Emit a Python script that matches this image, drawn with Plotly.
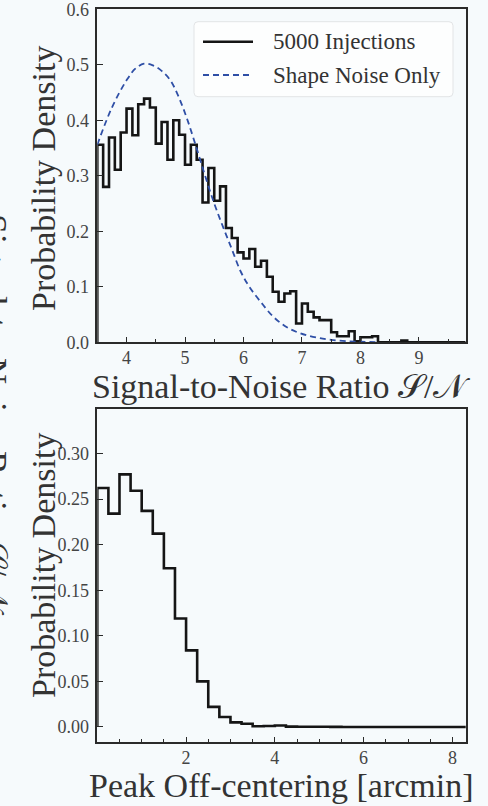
import numpy as np
import plotly.graph_objects as go

# ---------------- data ----------------
snr_bin_start = 3.5
snr_bin_width = 0.1
snr_density = [
    0.356, 0.280, 0.369, 0.311, 0.378, 0.421, 0.373, 0.429, 0.439, 0.423,
    0.358, 0.397, 0.329, 0.400, 0.374, 0.320, 0.356, 0.329, 0.252, 0.314,
    0.255, 0.281, 0.206, 0.188, 0.162, 0.151, 0.168, 0.136, 0.147, 0.118,
    0.091, 0.073, 0.088, 0.092, 0.034, 0.070, 0.055, 0.045, 0.040, 0.040,
    0.018, 0.011, 0.011, 0.020, 0.002, 0.009, 0.009, 0.011, 0.0, 0.0,
    0.0, 0.0, 0.003, 0.0, 0.0, 0.0, 0.0, 0.0, 0.0, 0.0,
    0.0, 0.0, 0.0,
]

shape_noise_x = [3.5, 3.75, 4.0, 4.15, 4.3, 4.45, 4.6, 4.75, 4.9, 5.05, 5.2,
                 5.35, 5.5, 5.65, 5.8, 5.95, 6.1, 6.3, 6.5, 6.7, 6.9, 7.1,
                 7.3, 7.5, 7.75, 8.0, 8.3]
shape_noise_y = [0.356, 0.423, 0.472, 0.493, 0.502, 0.499, 0.489, 0.472,
                 0.440, 0.398, 0.349, 0.298, 0.250, 0.208, 0.168, 0.128,
                 0.100, 0.072, 0.047, 0.030, 0.019, 0.012, 0.0075, 0.0045,
                 0.002, 0.001, 0.0003]

off_bin_start = 0.0
off_bin_width = 0.25
off_density = [
    0.262, 0.234, 0.277, 0.259, 0.237, 0.212, 0.174, 0.119, 0.084, 0.050,
    0.022, 0.011, 0.005, 0.0035, 0.0008, 0.001, 0.0016, 0.0004, 0.0003,
    0.0002, 0.0002, 0.0001, 0.0, 0.0, 0.0, 0.0, 0.0, 0.0, 0.0, 0.0, 0.0,
    0.0, 0.0, 0.0, 0.0,
]

top_xticks = [4, 5, 6, 7, 8, 9]
top_yticks = [0.0, 0.1, 0.2, 0.3, 0.4, 0.5, 0.6]
top_yticklabels = ["0.0", "0.1", "0.2", "0.3", "0.4", "0.5", "0.6"]
bot_xticks = [2, 4, 6, 8]
bot_yticks = [0.00, 0.05, 0.10, 0.15, 0.20, 0.25, 0.30]
bot_yticklabels = ["0.00", "0.05", "0.10", "0.15", "0.20", "0.25", "0.30"]

legend_labels = ["5000 Injections", "Shape Noise Only"]
top_xtitle = "Signal-to-Noise Ratio 𝒮/𝒩"
bot_xtitle = "Peak Off-centering [arcmin]"
ytitle = "Probability Density"

# ---------------- helpers ----------------
W, H = 488, 806
SERIF = "Liberation Serif"
BG = "#f6fafc"
TXT = "#333333"
AX = "#2a2a2a"
HIST = "#151515"
BLUE = "#2f4fa6"


def px(x):
    return x / W


def py(y):
    return 1 - y / H


def step_xy(start, width, vals):
    edges = start + width * np.arange(len(vals) + 1)
    xs = [edges[0]] + list(edges)
    ys = [0.0] + list(vals) + [0.0]
    return xs, ys


fig = go.Figure()

sx, sy = step_xy(snr_bin_start, snr_bin_width, snr_density)
fig.add_trace(go.Scatter(x=sx, y=sy, mode="lines", line_shape="hv",
                         line=dict(color=HIST, width=2.6),
                         name=legend_labels[0], showlegend=False,
                         xaxis="x", yaxis="y"))
fig.add_trace(go.Scatter(x=shape_noise_x, y=shape_noise_y, mode="lines",
                         line_shape="spline",
                         line=dict(color=BLUE, width=1.8, dash="6px,4px"),
                         name=legend_labels[1], showlegend=False,
                         xaxis="x", yaxis="y"))

ox, oy = step_xy(off_bin_start, off_bin_width, off_density)
fig.add_trace(go.Scatter(x=ox, y=oy, mode="lines", line_shape="hv",
                         line=dict(color=HIST, width=2.6),
                         showlegend=False, xaxis="x2", yaxis="y2"))

TICKFONT = dict(family=SERIF, size=18, color="#444444")
axis_common = dict(showline=True, linecolor=AX, linewidth=1.6, mirror=True,
                   ticks="inside", ticklen=6, tickwidth=1.3, tickcolor=AX,
                   showgrid=False, zeroline=False,
                   tickfont=TICKFONT, automargin=False,
                   ticklabeloverflow="allow")
minor_x = dict(dtick=0.5, ticks="inside", ticklen=4, tickwidth=1.1,
               tickcolor=AX, showgrid=False)

fig.update_layout(
    width=W, height=H,
    margin=dict(l=0, r=0, t=0, b=0, autoexpand=False),
    paper_bgcolor=BG, plot_bgcolor=BG,
    font=dict(family=SERIF, size=18, color="#444444"),
    showlegend=False,
    xaxis=dict(domain=[px(97.3), px(465.7)], range=[3.5, 9.8],
               tickvals=top_xticks, minor=minor_x, anchor="y",
               ticklabelstandoff=-2, **axis_common),
    yaxis=dict(domain=[py(342.3), py(9.3)], range=[0, 0.6],
               tickvals=top_yticks, ticktext=top_yticklabels, anchor="x",
               ticklabelstandoff=3, **axis_common),
    xaxis2=dict(domain=[px(97.3), px(465.7)], range=[0, 8.3],
                tickvals=bot_xticks, minor=minor_x, anchor="y2",
                ticklabelstandoff=-2, **axis_common),
    yaxis2=dict(domain=[py(742.3), py(409)], range=[-0.0168, 0.3487],
                tickvals=bot_yticks, ticktext=bot_yticklabels, anchor="x2",
                ticklabelstandoff=3, **axis_common),
)

# ---------------- legend (drawn manually) ----------------
lx0, lx1, ly0, ly1, r = 194, 453, 21.7, 96.7, 4
path = (f"M {px(lx0 + r)},{py(ly0)} L {px(lx1 - r)},{py(ly0)} "
        f"Q {px(lx1)},{py(ly0)} {px(lx1)},{py(ly0 + r)} "
        f"L {px(lx1)},{py(ly1 - r)} Q {px(lx1)},{py(ly1)} {px(lx1 - r)},{py(ly1)} "
        f"L {px(lx0 + r)},{py(ly1)} Q {px(lx0)},{py(ly1)} {px(lx0)},{py(ly1 - r)} "
        f"L {px(lx0)},{py(ly0 + r)} Q {px(lx0)},{py(ly0)} {px(lx0 + r)},{py(ly0)} Z")
shapes = [
    dict(type="path", xref="paper", yref="paper", path=path,
         fillcolor="rgba(255,255,255,0.75)", line=dict(color="#e2e4e6", width=1)),
    dict(type="line", xref="paper", yref="paper", x0=px(203), x1=px(253),
         y0=py(41.7), y1=py(41.7), line=dict(color=HIST, width=2.6)),
    dict(type="line", xref="paper", yref="paper", x0=px(203), x1=px(253),
         y0=py(75), y1=py(75), line=dict(color=BLUE, width=1.8, dash="6px,4px")),
]
fig.update_layout(shapes=shapes)

ann = []
for lab, yy in zip(legend_labels, [41.7, 75]):
    ann.append(dict(text=lab, xref="paper", yref="paper", x=px(271), y=py(yy),
                    xanchor="left", yanchor="middle", showarrow=False,
                    font=dict(family=SERIF, size=23, color=TXT)))

TITLEFONT = dict(family=SERIF, size=34, color=TXT)
ann.append(dict(text=ytitle, xref="paper", yref="paper", x=px(43), y=py(179),
                textangle=-90, xanchor="center", yanchor="middle",
                showarrow=False, font=TITLEFONT))
ann.append(dict(text=ytitle, xref="paper", yref="paper", x=px(43), y=py(566),
                textangle=-90, xanchor="center", yanchor="middle",
                showarrow=False, font=TITLEFONT))
ann.append(dict(text=top_xtitle, xref="paper", yref="paper", x=px(281),
                y=py(386), xanchor="center", yanchor="middle",
                showarrow=False, font=TITLEFONT))
ann.append(dict(text=bot_xtitle, xref="paper", yref="paper", x=px(281),
                y=py(785), xanchor="center", yanchor="middle",
                showarrow=False, font=TITLEFONT))
# clipped label of a neighbouring panel at the left edge
ann.append(dict(text=top_xtitle, xref="paper", yref="paper", x=px(16),
                y=py(415), textangle=90, xanchor="right", yanchor="middle",
                showarrow=False, font=dict(family=SERIF, size=36, color=TXT)))
fig.update_layout(annotations=ann)

fig.write_html("out.html")
